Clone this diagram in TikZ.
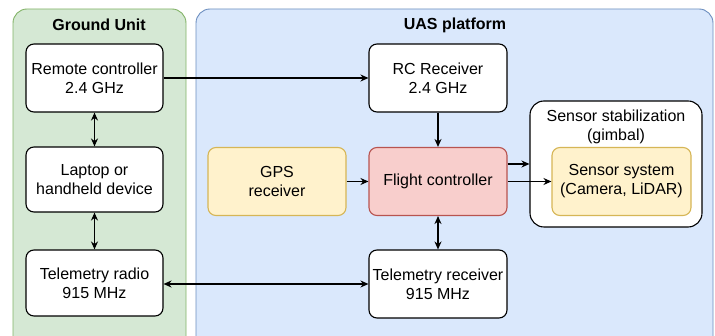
\documentclass[tikz,border=0pt]{standalone}
\usepackage{fontspec}
\setmainfont{Liberation Sans}
\usetikzlibrary{arrows.meta}
\definecolor{grnfill}{HTML}{D5E8D4}
\definecolor{grnline}{HTML}{82B366}
\definecolor{bluefill}{HTML}{DAE8FC}
\definecolor{blueline}{HTML}{6C8EBF}
\definecolor{yelfill}{HTML}{FFF2CC}
\definecolor{yelline}{HTML}{D6B656}
\definecolor{redfill}{HTML}{F8CECC}
\definecolor{redline}{HTML}{B85450}
\tikzset{
  panel/.style={rounded corners=14pt, line width=0.9pt},
  box/.style={draw, rounded corners=8pt, line width=1.1pt, fill=white,
    minimum width=138pt, minimum height=68pt, align=center,
    font=\fontsize{16}{19}\selectfont, inner sep=1pt},
  title/.style={font=\fontsize{16}{19}\selectfont\bfseries},
  conn/.style={line width=1.1pt, -{Stealth[length=8pt,width=7pt]}},
  biconn/.style={line width=1.1pt, {Stealth[length=8pt,width=7pt]}-{Stealth[length=8pt,width=7pt]}}
}
\begin{document}
\begin{tikzpicture}[x=1pt,y=-1pt]
\clip (0,0) rectangle (715,336);
\fill[white] (0,0) rectangle (715,336);
% containers
\draw[panel, fill=grnfill, draw=grnline] (13,9) rectangle (186,350);
\draw[panel, fill=bluefill, draw=blueline] (196,9) rectangle (713,350);
\node[title] (gtitle) at (99,25) {Ground Unit};
\node[title] (utitle) at (455,25) {UAS platform};
% ground unit
\node[box, minimum width=137pt] (remote) at (94.5,78) {Remote controller\\2.4 GHz};
\node[box, minimum width=137pt, minimum height=65pt] (laptop) at (94.5,179.5) {Laptop or\\handheld device};
\node[box, minimum width=137pt, minimum height=66pt] (tradio) at (94.5,283) {Telemetry radio\\915 MHz};
% platform
\node[box] (rc) at (438,78) {RC Receiver\\2.4 GHz};
\node[box, fill=redfill, draw=redline] (fc) at (438,181.5) {Flight controller};
\node[box, fill=yelfill, draw=yelline] (gps) at (277,181.5) {GPS\\receiver};
\node[box] (trx) at (438,284) {Telemetry receiver\\915 MHz};
\node[draw, rounded corners=14pt, line width=1.1pt, fill=white,
  minimum width=172pt, minimum height=126pt] (gimbal) at (616,164) {};
\node[font=\fontsize{16}{19}\selectfont, align=center, anchor=north] (gtext) at (616,106) {Sensor stabilization\\(gimbal)};
\node[box, fill=yelfill, draw=yelline, minimum width=139pt] (sensor) at (621.5,181.5) {Sensor system\\(Camera, LiDAR)};
% connectors
\draw[conn] (remote.east) -- (rc.west);
\draw[biconn] (remote) -- (laptop);
\draw[biconn] (laptop) -- (tradio);
\draw[biconn] (tradio.east |- trx.west) -- (trx.west);
\draw[conn] (rc) -- (fc);
\draw[conn] (gps) -- (fc);
\draw[biconn] (fc) -- (trx);
\draw[conn] (fc.east |- gimbal.west) -- (gimbal.west);
\draw[conn] (fc.east) -- (sensor.west);
\end{tikzpicture}
\end{document}
